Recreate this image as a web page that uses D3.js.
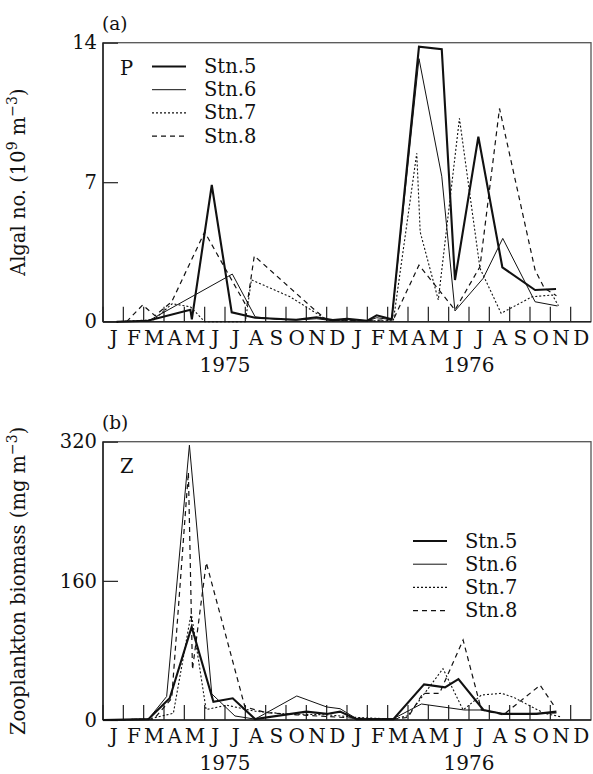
<!DOCTYPE html>
<html><head><meta charset="utf-8">
<script src="https://cdn.jsdelivr.net/npm/d3@7"></script>
<style>body{margin:0;background:#fff}svg{display:block}text{font-family:"DejaVu Serif",serif;fill:#111}</style>
</head><body><svg id="c" width="593" height="774"></svg>
<script>
const monthLabels = ["J","F","M","A","M","J","J","A","S","O","N","D","J","F","M","A","M","J","J","A","S","O","N","D"];
const yearLabels = ["1975","1976"];
const stations = ["Stn.5","Stn.6","Stn.7","Stn.8"];
const ticksA = [0,7,14];
const ticksB = [0,160,320];
// [month index from Jan 1975, value]
const stn5a = [[0.67,0],[2.2,0.05],[4.3,0.6],[4.37,0.12],[5.35,6.86],[6.33,0.47],[7.48,0.2],[8.5,0.15],[9.5,0.1],[10.5,0.22],[11.3,0.08],[12.0,0.15],[13.0,0.05],[13.46,0.32],[14.2,0.12],[15.54,13.8],[16.66,13.67],[17.31,2.09],[18.46,9.28],[19.64,2.73],[21.25,1.59],[22.28,1.64]];
const stn6a = [[0.67,0],[2.2,0.02],[6.36,2.39],[7.48,0.25],[8.5,0.12],[9.5,0.08],[10.5,0.15],[11.3,0.05],[12.0,0.1],[13.0,0.05],[13.46,0.2],[14.2,0.1],[15.54,13.2],[16.66,7.3],[17.31,0.54],[18.7,2.18],[19.66,4.18],[21.25,1.0],[22.35,0.79]];
const stn7a = [[0.67,0],[2.5,0.1],[3.4,0.9],[4.3,0.75],[5.0,0],[7.0,0],[7.3,2.1],[9.2,1.25],[11.0,0.1],[12.0,0.05],[13.0,0.05],[14.28,0.05],[15.43,8.45],[15.6,4.5],[16.49,1.09],[17.53,10.2],[18.54,2.68],[19.58,0.42],[21.1,1.25],[22.1,1.34],[22.4,0.8]];
const stn8a = [[1.16,0],[1.95,0.84],[2.56,0.3],[3.38,1.0],[5.0,4.5],[7.07,0.75],[7.44,3.3],[10.4,0.6],[11.0,0.1],[12.5,0.05],[14.28,0.1],[15.54,2.84],[17.31,0.59],[18.54,2.76],[19.5,10.7],[21.25,2.59],[21.7,1.69],[22.3,1.3]];
const stn5b = [[0,0],[2.23,1],[3.28,25],[4.36,107],[5.43,21],[6.38,25],[7.48,1],[10.0,9.6],[11.0,7],[11.66,9.6],[12.47,0.8],[14.28,0.8],[15.79,41],[16.82,37.6],[17.48,47],[18.71,11.5],[19.69,7],[21.33,7],[22.3,9.6]];
const stn6b = [[0,0],[2.23,1],[3.13,27],[4.25,316],[5.35,30],[6.49,4.6],[7.48,1],[9.53,27.6],[11.0,15],[11.66,13],[12.47,1.5],[14.28,1.5],[15.66,18.4],[17.77,11.5],[18.71,11.5],[19.69,7],[22.3,8]];
const stn7b = [[0,0],[2.23,1],[3.46,7.7],[4.34,123],[5.07,12],[6.08,17],[7.5,10],[9.0,7],[11.0,6],[12.47,3],[14.28,1],[15.0,5],[16.72,59],[17.71,11.5],[18.61,28.7],[19.6,30.7],[20.2,26],[21.7,7.7],[22.5,3.8]];
const stn8b = [[0,0],[2.5,1],[3.38,25],[4.2,285],[4.4,58],[5.08,181],[6.98,15],[8.05,8.4],[9.5,6],[11.0,4],[12.5,2],[14.28,1],[15.0,3],[15.73,30.7],[16.55,30.7],[17.71,92],[18.61,11.5],[19.69,6],[21.5,40],[22.22,15]];

const styles = [
  {w:2.1, dash:null},
  {w:1.0, dash:null},
  {w:1.1, dash:"2,2"},
  {w:1.2, dash:"5,4"}
];
const svg = d3.select("#c");
const x = d3.scaleLinear().domain([0,24]).range([103,591]);

function panel(o){
  const y = d3.scaleLinear().domain(o.dom).range([o.bottom,o.top]);
  const g = svg.append("g");
  // frame
  g.append("rect").attr("x",x(0)).attr("y",y(o.dom[1])).attr("width",x(24)-x(0)).attr("height",y(0)-y(o.dom[1]))
    .attr("fill","none").attr("stroke","#555").attr("stroke-width",1.3);
  g.append("line").attr("x1",x(0)).attr("x2",x(0)).attr("y1",y(0)).attr("y2",y(o.dom[1])).attr("stroke","#222").attr("stroke-width",1.5);
  g.append("line").attr("x1",x(0)).attr("x2",x(24)).attr("y1",y(0)).attr("y2",y(0)).attr("stroke","#222").attr("stroke-width",1.5);
  // month ticks
  g.selectAll(".mt").data(d3.range(0,24)).join("line")
    .attr("x1",d=>x(d)).attr("x2",d=>x(d)).attr("y1",y(0)).attr("y2",y(0)-15).attr("stroke","#222").attr("stroke-width",1.2);
  // y axis
  const ya = d3.axisLeft(y).tickValues(o.ticks).tickSize(-15).tickPadding(6).tickFormat(d3.format("d"));
  const yg = g.append("g").attr("transform",`translate(${x(0)},0)`).call(ya);
  yg.select(".domain").remove();
  yg.selectAll(".tick line").attr("stroke","#222").attr("stroke-width",1.2);
  yg.selectAll(".tick text").attr("font-family","DejaVu Serif").attr("font-size",19.5).attr("fill","#111");
  // month labels
  const xa = d3.axisBottom(x).tickValues(d3.range(0,24).map(d=>d+0.5)).tickSize(0).tickPadding(9).tickFormat((d,i)=>monthLabels[i]);
  const xg = g.append("g").attr("transform",`translate(0,${y(0)})`).call(xa);
  xg.select(".domain").remove();
  xg.selectAll(".tick text").attr("font-family","DejaVu Serif").attr("font-size",20).attr("fill","#111");
  // year labels
  g.selectAll(".yr").data(yearLabels).join("text").attr("x",(d,i)=>x(6+12*i)).attr("y",y(0)+50)
    .attr("text-anchor","middle").attr("font-size",20).text(d=>d);
  // lines
  const line = d3.line().x(d=>x(d[0])).y(d=>y(d[1]));
  o.series.forEach((s,i)=>{
    g.append("path").attr("d",line(s)).attr("fill","none").attr("stroke","#111")
      .attr("stroke-width",styles[i].w).attr("stroke-dasharray",styles[i].dash).attr("stroke-linejoin","miter");
  });
  // panel letter
  g.append("text").attr("x",x(0)-1).attr("y",o.top-13).attr("font-size",18.5).text(o.label);
  g.append("text").attr("x",120).attr("y",o.top+o.letterDy).attr("font-size",19.5).text(o.letter);
  // legend
  stations.forEach((s,i)=>{
    const ly = o.legY + i*23.2;
    g.append("line").attr("x1",o.legX).attr("x2",o.legX+34).attr("y1",ly).attr("y2",ly)
      .attr("stroke","#111").attr("stroke-width",styles[i].w).attr("stroke-dasharray",styles[i].dash);
    g.append("text").attr("x",o.legX+52).attr("y",ly+6.5).attr("font-size",19.5).text(s);
  });
  // y title
  const cy = (o.top+o.bottom)/2;
  const t = svg.append("text").attr("transform",`translate(25,${cy}) rotate(-90)`).attr("text-anchor","middle").attr("font-size",19.5);
  o.title(t);
}

panel({dom:[0,14], top:42.7, bottom:321.7, ticks:ticksA, series:[stn5a,stn6a,stn7a,stn8a], label:"(a)", letter:"P", letterDy:32,
  legX:152, legY:66.5,
  title:t=>{t.append("tspan").text("Algal no. (10");t.append("tspan").attr("dy",-8).attr("font-size",14).text("9");
    t.append("tspan").attr("dy",8).text(" m");t.append("tspan").attr("dy",-8).attr("font-size",14).text("−3");t.append("tspan").attr("dy",8).text(")");}});
panel({dom:[0,320], top:441.7, bottom:720, ticks:ticksB, series:[stn5b,stn6b,stn7b,stn8b], label:"(b)", letter:"Z", letterDy:31,
  legX:413, legY:541,
  title:t=>{t.append("tspan").text("Zooplankton biomass (mg m");t.append("tspan").attr("dy",-8).attr("font-size",14).text("−3");t.append("tspan").attr("dy",8).text(")");}});
</script></body></html>
